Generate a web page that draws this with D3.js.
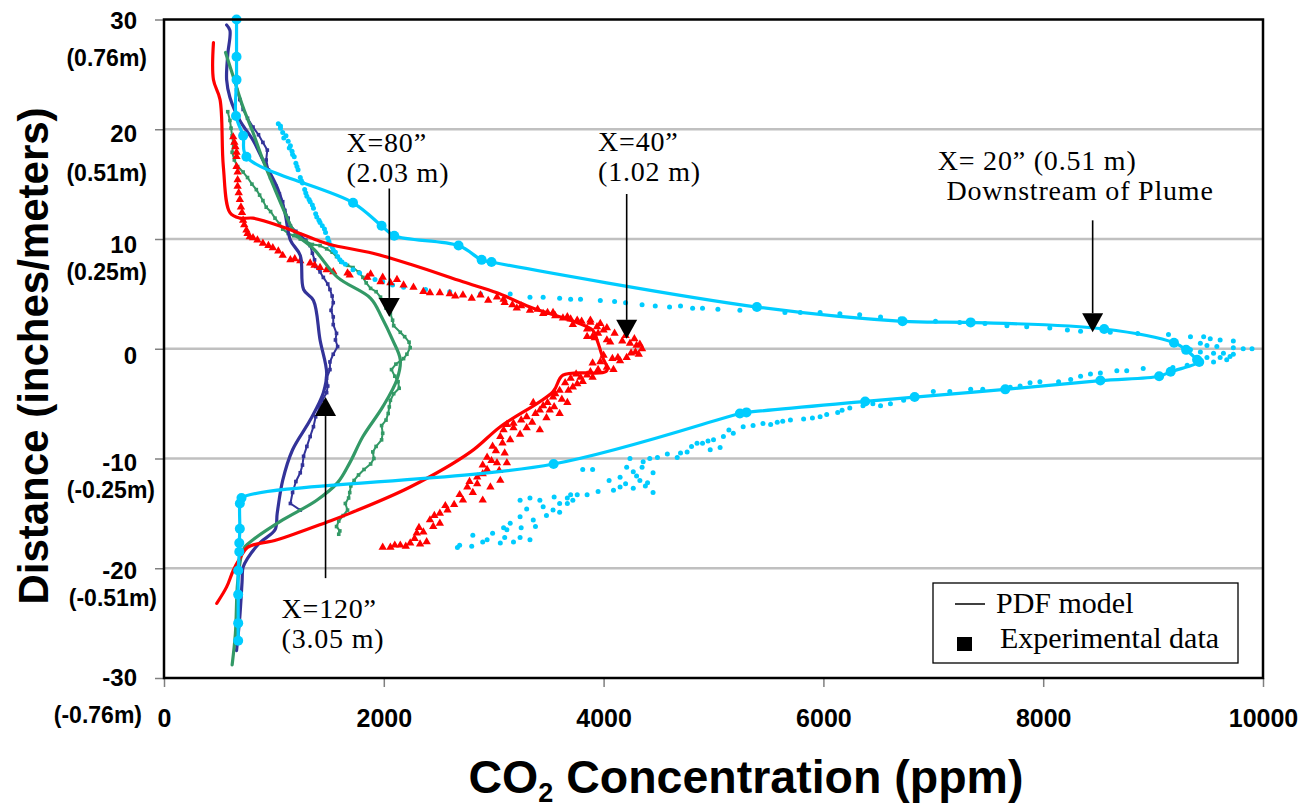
<!DOCTYPE html>
<html>
<head>
<meta charset="utf-8">
<script src="https://cdn.jsdelivr.net/npm/d3@7"></script>
<style>
  body { margin: 0; background: #fff; }
  svg { display: block; }
</style>
</head>
<body>
<svg id="chart" width="1308" height="809"></svg>
<script>
// ---- Data: [CO2 ppm, distance in inches] ----
const xTicks = [0, 2000, 4000, 6000, 8000, 10000];
const yTicks = [30, 20, 10, 0, -10, -20, -30];
const yMeterLabels = ["(0.76m)", "(0.51m)", "(0.25m)", "", "(-0.25m)", "(-0.51m)", "(-0.76m)"];
const gridValues = [20, 10, 0, -10, -20];

// X = 20" (0.51 m) downstream of plume
const cyanModel = [[660,30.0],[660,26.6],[660,24.5],[655,21.2],[720,19.4],[750,17.5],[1720,13.3],[1980,11.2],[2095,10.3],[2680,9.4],[2890,8.1],[2980,7.9],[5395,3.8],[6720,2.5],[7340,2.4],[8555,1.8],[9190,0.55],[9300,-0.1],[9400,-1.0],[9420,-1.2],[9160,-2.1],[9055,-2.5],[8520,-2.9],[7655,-3.7],[6830,-4.4],[6380,-4.8],[5300,-5.8],[5240,-5.9],[3545,-10.5],[705,-13.6],[690,-14.1],[690,-16.4],[685,-17.7],[685,-18.5],[675,-20.2],[675,-22.4],[675,-25.0],[675,-26.6]];
const cyanExp = [[1040,20.5],[1060,20.1],[1080,19.7],[1110,19.4],[1130,18.9],[1150,18.5],[1165,18.0],[1185,17.5],[1200,16.9],[1220,16.3],[1240,15.6],[1260,15.1],[1280,14.5],[1300,13.9],[1330,13.4],[1360,12.8],[1380,12.3],[1410,11.7],[1440,11.2],[1470,10.6],[1490,10.1],[1510,9.5],[1540,9.0],[1580,8.4],[1650,7.7],[1720,7.2],[1850,6.5],[1990,6.1],[2180,5.6],[2380,5.4],[2600,5.2],[2880,5.0],[3150,5.0],[3330,4.7],[3600,4.6],[3790,4.5],[3970,4.4],[4200,4.2],[4470,3.9],[4700,3.9],[4810,3.7],[5040,3.6],[5240,3.5],[5650,3.3],[5790,3.3],[5970,3.3],[6150,3.2],[6330,3.1],[6520,2.9],[6700,2.7],[7020,2.5],[7240,2.4],[7470,2.3],[7670,2.1],[7850,2.0],[8060,1.9],[8220,1.7],[8340,1.6],[8610,1.5],[8860,1.4],[9140,1.3],[9340,1.1],[9460,1.1],[9520,0.9],[9610,0.8],[9730,0.7],[9430,0.5],[9490,0.3],[9580,0.2],[9730,0.1],[9820,0.0],[9900,0.0],[9340,-0.1],[9430,-0.3],[9550,-0.4],[9640,-0.4],[9730,-0.5],[9490,-0.8],[9610,-0.8],[9700,-0.7],[9550,-1.2],[9670,-1.0],[9430,-1.3],[9310,-1.5],[9180,-1.7],[8910,-1.8],[8760,-2.0],[8670,-2.0],[8520,-2.2],[8430,-2.3],[8340,-2.5],[8250,-2.8],[8140,-3.0],[7970,-3.0],[7880,-3.1],[7790,-3.4],[7700,-3.5],[7450,-3.7],[7340,-3.7],[7150,-3.9],[7000,-3.9],[6850,-4.4],[6730,-4.7],[6610,-5.0],[6520,-5.2],[6360,-5.2],[6240,-5.4],[6130,-5.8],[6030,-6.0],[5970,-6.2],[5820,-6.4],[5700,-6.5],[5580,-6.7],[5450,-6.8],[5360,-7.0],[5270,-7.1],[5180,-7.7],[5090,-8.0],[5000,-8.3],[4900,-8.6],[5060,-9.0],[4970,-9.2],[4850,-8.6],[4700,-9.5],[4670,-9.9],[4580,-9.6],[4490,-9.9],[4420,-10.0],[4360,-10.3],[4450,-11.3],[4240,-10.0],[4210,-10.8],[4270,-11.2],[4150,-11.7],[4330,-12.0],[4400,-12.2],[4450,-13.1],[4270,-12.7],[4150,-12.6],[4090,-12.9],[3900,-11.0],[3810,-11.0],[3670,-13.6],[3600,-14.1],[3540,-14.7],[3420,-13.8],[3330,-13.6],[3240,-13.8],[3360,-15.6],[3240,-15.3],[3150,-15.9],[3090,-16.3],[2990,-16.8],[2940,-17.4],[2810,-17.0],[2690,-17.9],[2670,-18.1],[3330,-17.4],[3240,-17.2],[3180,-17.6],[3060,-17.7],[3120,-16.5],[3600,-14.9],[3670,-14.1],[3720,-13.8],[3760,-13.3],[3850,-13.3],
  [1060,20.3],[1090,19.2],[1140,18.3],[1170,17.7],[1210,16.6],[1250,15.3],[1290,14.2],[1320,13.6],[1350,13.1],[1390,12.0],[1420,11.5],[1460,10.9],[1500,9.8],[1530,9.3],[1560,8.8],[1600,8.1],[1620,7.9],[1780,6.9],[1920,6.3],[2080,5.8],
  [3450,4.7],[3700,4.5],[4100,4.3],[4350,4.0],[4600,3.8],[4900,3.7],
  [6450,-5.0],[6170,-5.6],[5900,-6.3],[5630,-6.6],[5520,-6.9],[5140,-7.4],[4950,-8.4],[4800,-8.9],[4760,-9.4],
  [4350,-10.8],[4300,-11.6],[4200,-12.3],[4380,-12.5],[4050,-12.0],[3950,-13.0],[3700,-13.3],[3550,-13.5],[3450,-14.4],[3300,-14.6],[3480,-15.2],[3380,-16.2],[3250,-16.3],[3100,-17.2],[2900,-17.6],[2800,-18.0]];

// X = 40" (1.02 m)
const redModel = [[450,27.9],[450,24.5],[510,22.7],[540,16.6],[600,12.4],[690,11.9],[810,11.9],[1080,11.1],[1390,9.9],[1510,9.5],[1900,8.7],[2270,7.6],[2720,6.1],[3030,5.1],[3330,3.8],[3900,1.7],[3940,0.8],[3990,-0.75],[4030,-2.0],[3630,-2.4],[3540,-3.9],[3060,-7.1],[2790,-9.4],[2240,-12.6],[1690,-15.0],[1480,-15.8],[1030,-17.4],[760,-18.1],[690,-19.1],[630,-20.2],[570,-21.7],[480,-23.2]];
const redExp = [[630,19.3],[640,18.8],[650,18.4],[660,17.9],[660,17.5],[660,16.6],[670,16.1],[670,15.4],[670,14.8],[680,14.2],[690,13.6],[700,12.9],[710,12.4],[720,11.7],[730,11.3],[750,10.8],[760,10.5],[780,10.2],[810,10.1],[850,9.9],[900,9.6],[950,9.4],[990,9.2],[1040,8.9],[1080,8.5],[1150,8.1],[1190,8.2],[1240,8.0],[1330,7.8],[1370,7.6],[1420,7.4],[1480,7.2],[1540,7.0],[1670,6.9],[1690,6.7],[1850,6.5],[1880,6.8],[1990,6.5],[1970,6.1],[2120,6.3],[2060,6.0],[2180,5.8],[2270,5.6],[2360,5.2],[2420,5.1],[2510,5.1],[2720,4.9],[2880,4.9],[3030,4.7],[3090,4.5],[3170,4.0],[3210,3.7],[3330,3.5],[3490,3.3],[3540,3.3],[3630,2.8],[3670,2.9],[3760,2.6],[3880,2.4],[3880,2.6],[3970,2.3],[3940,2.0],[4000,1.7],[4030,1.9],[3900,1.1],[3850,1.1],[3920,1.0],[4030,0.8],[4060,0.6],[4170,0.7],[4240,0.5],[4300,0.3],[4350,0.0],[4290,-0.3],[4210,-0.8],[4130,-0.8],[4080,-0.9],[3970,-1.2],[3900,-1.3],[4030,-1.7],[3950,-1.9],[3880,-2.1],[4090,-1.9],[3790,-2.6],[3700,-2.7],[3810,-3.0],[3720,-3.5],[3600,-3.8],[3670,-4.9],[3540,-4.4],[3510,-5.6],[3490,-4.9],[3360,-4.9],[3420,-5.6],[3600,-5.9],[3300,-6.2],[3180,-6.8],[3090,-7.4],[3420,-7.4],[3300,-7.2],[3120,-6.9],[3060,-8.0],[2990,-8.9],[2940,-9.9],[3030,-10.4],[3120,-10.4],[2940,-11.0],[2850,-11.7],[3060,-12.0],[2970,-12.6],[2760,-12.6],[2810,-13.1],[2900,-13.8],[2720,-13.8],[2580,-14.7],[2510,-15.0],[2420,-15.6],[2510,-15.9],[2360,-16.7],[2300,-16.8],[2390,-17.6],[2240,-17.7],[2150,-17.9],[2060,-18.1],[1990,-18.1],
  [2600,5.0],[2650,4.8],[2800,4.6],[2950,4.4],[3100,4.2],[3250,3.9],[3400,3.6],[3450,3.2],[3560,3.0],[3700,2.7],[3800,2.5],[3720,2.2],[3850,1.8],[3950,1.4],
  [4100,1.4],[4200,1.2],[4280,0.9],[4330,0.4],[4320,-0.5],[4250,-0.4],[4150,-1.1],[4000,-0.6],
  [3750,-2.3],[3850,-2.4],[3900,-2.6],[3650,-3.1],[3760,-3.2],[3680,-3.8],[3560,-4.1],[3620,-4.6],[3450,-5.2],[3550,-5.3],[3380,-5.9],[3480,-6.3],[3250,-6.5],[3350,-6.7],[3180,-7.2],[3240,-7.8],[3150,-8.3],[3080,-8.6],[3020,-9.3],[3100,-9.5],[2980,-10.2],[2900,-10.6],[3050,-11.1],[2900,-11.4],[2780,-12.1],[2850,-12.3],[2690,-13.3],[2640,-14.2],[2560,-14.3],[2460,-15.2],[2450,-16.2],[2320,-16.3],[2280,-17.3],[2330,-17.8],[2100,-17.9],[2200,-18.0]];

// X = 80" (2.03 m)
const greenModel = [[560,27.0],[630,24.8],[720,22.0],[810,19.7],[900,17.2],[1010,14.5],[1100,12.4],[1190,10.6],[1370,9.0],[1580,6.5],[1880,4.6],[1980,2.9],[2080,0.8],[2150,-1.0],[2120,-2.8],[1990,-5.3],[1810,-8.0],[1690,-10.4],[1580,-12.2],[1390,-13.8],[1080,-15.6],[810,-17.4],[740,-18.0],[710,-18.6],[670,-21.3],[650,-25.9],[620,-28.8]];
const greenExp = [[580,21.6],[600,20.8],[610,20.1],[620,19.4],[630,18.7],[620,17.9],[640,17.2],[670,16.6],[720,16.1],[760,15.6],[800,15.0],[840,14.5],[870,14.0],[900,13.5],[930,12.9],[970,12.5],[1010,11.9],[1050,11.4],[1080,10.9],[1130,10.5],[1180,10.3],[1240,10.0],[1290,9.8],[1350,9.5],[1420,9.4],[1480,9.1],[1530,8.8],[1570,8.4],[1610,7.9],[1670,7.6],[1720,7.4],[1770,7.0],[1810,6.5],[1840,6.0],[1880,5.5],[1930,5.2],[1970,4.7],[2000,4.3],[2020,3.7],[2060,3.2],[2080,2.6],[2090,2.1],[2150,1.5],[2190,1.1],[2230,0.6],[2240,0.1],[2210,-0.5],[2180,-0.9],[2110,-1.4],[2070,-1.9],[2100,-2.5],[2130,-3.0],[2140,-3.6],[2090,-4.1],[2060,-4.7],[2050,-5.3],[2040,-5.9],[2020,-6.5],[1980,-7.0],[1990,-7.7],[1980,-8.3],[1930,-8.9],[1900,-9.4],[1910,-10.0],[1880,-10.5],[1820,-11.0],[1770,-11.5],[1730,-12.0],[1700,-12.5],[1690,-13.1],[1680,-13.6],[1650,-14.1],[1670,-14.7],[1630,-15.2],[1590,-15.7],[1570,-16.2],[1600,-16.6],[1590,-16.9]];

// X = 120" (3.05 m)
const navyModel = [[570,29.5],[600,29.0],[580,26.8],[570,24.5],[600,22.9],[690,20.8],[810,19.0],[900,17.2],[1030,14.7],[1100,12.4],[1150,9.9],[1240,8.5],[1270,5.4],[1360,4.4],[1420,0.8],[1480,-2.2],[1450,-4.0],[1330,-6.5],[1170,-9.2],[1080,-12.0],[1030,-15.0],[1010,-16.5],[870,-17.7],[760,-19.1],[720,-19.9],[710,-21.3],[690,-24.4],[660,-27.5]];
const navyExp = [[660,23.6],[690,22.7],[720,21.8],[760,21.0],[810,20.2],[860,19.5],[900,18.8],[940,18.1],[930,17.2],[950,16.3],[970,15.6],[1020,14.8],[1050,14.1],[1080,13.4],[1100,12.6],[1130,11.9],[1150,11.2],[1200,10.7],[1240,10.4],[1290,9.9],[1330,9.4],[1350,8.7],[1370,8.1],[1380,7.5],[1420,7.0],[1450,6.5],[1490,5.9],[1510,5.4],[1530,4.8],[1540,4.2],[1520,3.5],[1540,2.9],[1540,2.2],[1570,1.4],[1560,0.8],[1580,0.2],[1540,-0.5],[1510,-1.2],[1510,-1.9],[1480,-2.7],[1490,-3.4],[1480,-4.0],[1440,-4.7],[1420,-5.3],[1380,-6.2],[1360,-7.1],[1330,-8.0],[1300,-8.9],[1270,-9.8],[1260,-10.6],[1240,-11.3],[1200,-12.1],[1170,-13.1],[1150,-14.1],[1240,-14.7]];

// Callout labels and arrows (arrow: x value, tail distance, tip distance)
const notes = [
  { lines: [["X=80\u201D", 1660, 17.95], ["(2.03 m)", 1660, 15.2]], arrow: [2050, 14.6, 2.9] },
  { lines: [["X=40\u201D", 3950, 18.0], ["(1.02 m)", 3950, 15.25]], arrow: [4210, 14.1, 0.9] },
  { lines: [["X= 20\u201D (0.51 m)", 7040, 16.3], ["Downstream of Plume", 7120, 13.55]], arrow: [8450, 11.7, 1.5] },
  { lines: [["X=120\u201D", 1070, -24.55], ["(3.05 m)", 1070, -27.3]], arrow: [1470, -20.9, -4.4] }
];

// ---- Layout ----
const plot = { left: 164, right: 1263, top: 19.5, bottom: 678 };
const colors = { cyan: "#00CCFF", red: "#FF0000", green: "#339966", navy: "#333399" };
const sans = "'Liberation Sans', Arial, sans-serif";
const serif = "'Liberation Serif', 'Times New Roman', serif";
// vertical centres of the two-line y labels, relative to their tick
const inchNudge = [0.5, 4.5, 5.5, 7, 4, 2, -0.5];
const meterLayout = [{ dy: 38, right: 147 }, { dy: 43, right: 147 }, { dy: 32.5, right: 147 }, null,
                     { dy: 31, right: 155 }, { dy: 29.5, right: 157 }, { dy: 36, right: 142 }];

const svg = d3.select("#chart");
const x = d3.scaleLinear().domain([0, 10000]).range([plot.left, plot.right]);
const y = d3.scaleLinear().domain([-30, 30]).range([plot.bottom, plot.top]);

// gridlines
svg.append("g").selectAll("line").data(gridValues).join("line")
  .attr("x1", plot.left).attr("x2", plot.right)
  .attr("y1", d => y(d)).attr("y2", d => y(d))
  .attr("stroke", "#c0c0c0").attr("stroke-width", 2.5);

// x axis
const gx = svg.append("g").attr("transform", `translate(0,${plot.bottom})`)
  .call(d3.axisBottom(x).tickValues(xTicks).tickSize(9).tickFormat(d => String(d)));
gx.select(".domain").remove();
gx.selectAll(".tick line").attr("stroke", "#808080").attr("stroke-width", 1.5);
gx.selectAll(".tick text").attr("y", 31).attr("dy", "0.71em")
  .attr("font-family", sans).attr("font-weight", "bold").attr("font-size", 25).attr("fill", "#000");

// y axis: ticks from the axis, two-line labels (inches / metres) drawn as one text each
const gy = svg.append("g").attr("transform", `translate(${plot.left},0)`)
  .call(d3.axisLeft(y).tickValues(yTicks).tickSize(9).tickFormat(""));
gy.select(".domain").remove();
gy.selectAll(".tick line").attr("stroke", "#808080").attr("stroke-width", 1.5);
gy.selectAll(".tick text").remove();

const yLab = svg.append("g").attr("font-family", sans).attr("font-weight", "bold").attr("fill", "#000");
yTicks.forEach((v, i) => {
  const t = yLab.append("text").attr("text-anchor", "end");
  t.append("tspan").attr("x", 137).attr("y", y(v) + inchNudge[i] + 8.5)
    .attr("font-size", 24).text(String(v));
  if (yMeterLabels[i]) {
    t.append("tspan").attr("x", meterLayout[i].right).attr("y", y(v) + meterLayout[i].dy + 8.5)
      .attr("font-size", 23).text(yMeterLabels[i]);
  }
});

// series
const line = d3.line().x(d => x(d[0])).y(d => y(d[1]));
const smooth = d3.line().x(d => x(d[0])).y(d => y(d[1])).curve(d3.curveCatmullRom.alpha(0.5));
const series = svg.append("g");

// experimental profiles
function jagged(data, color) {
  series.append("path").datum(data).attr("d", line)
    .attr("fill", "none").attr("stroke", color).attr("stroke-width", 2).attr("stroke-linejoin", "round");
  series.append("g").selectAll("rect").data(data).join("rect")
    .attr("x", d => x(d[0]) - 1.8).attr("y", d => y(d[1]) - 1.8)
    .attr("width", 3.6).attr("height", 3.6).attr("fill", color);
}
jagged(navyExp, colors.navy);
jagged(greenExp, colors.green);

series.append("g").selectAll("circle").data(cyanExp).join("circle")
  .attr("cx", d => x(d[0])).attr("cy", d => y(d[1])).attr("r", 2.5).attr("fill", colors.cyan);

const tri = d3.symbol().type(d3.symbolTriangle).size(30);
series.append("g").selectAll("path").data(redExp).join("path")
  .attr("transform", d => `translate(${x(d[0])},${y(d[1])})`)
  .attr("d", tri).attr("fill", colors.red);

// PDF model profiles
function model(data, color) {
  series.append("path").datum(data).attr("d", smooth)
    .attr("fill", "none").attr("stroke", color).attr("stroke-width", 3.2)
    .attr("stroke-linejoin", "round").attr("stroke-linecap", "round");
}
model(navyModel, colors.navy);
model(greenModel, colors.green);
model(redModel, colors.red);
model(cyanModel, colors.cyan);
series.append("g").selectAll("circle").data(cyanModel).join("circle")
  .attr("cx", d => x(d[0])).attr("cy", d => y(d[1])).attr("r", 5).attr("fill", colors.cyan);

// plot frame
svg.append("rect")
  .attr("x", plot.left).attr("y", plot.top)
  .attr("width", plot.right - plot.left).attr("height", plot.bottom - plot.top)
  .attr("fill", "none").attr("stroke", "#000").attr("stroke-width", 2.5);

// callouts
const ann = svg.append("g");
notes.forEach(n => {
  const t = ann.append("text").attr("font-family", serif).attr("font-size", 28)
    .attr("letter-spacing", 0.8).attr("fill", "#000");
  n.lines.forEach(([s, xv, yv]) => {
    t.append("tspan").attr("x", x(xv)).attr("y", y(yv)).text(s);
  });
  const [xv, from, to] = n.arrow;
  const ax = x(xv), y0 = y(from), y1 = y(to);
  const dir = Math.sign(y1 - y0);
  const headLen = 19, halfW = 10.5;
  ann.append("line").attr("x1", ax).attr("x2", ax).attr("y1", y0).attr("y2", y1 - dir * headLen)
    .attr("stroke", "#000").attr("stroke-width", 1.6);
  ann.append("path")
    .attr("d", `M${ax},${y1} L${ax - halfW},${y1 - dir * headLen} L${ax + halfW},${y1 - dir * headLen} Z`)
    .attr("fill", "#000");
});

// legend
const lg = svg.append("g");
lg.append("rect").attr("x", 933).attr("y", 583).attr("width", 305).attr("height", 80)
  .attr("fill", "#fff").attr("stroke", "#000").attr("stroke-width", 1.3);
lg.append("line").attr("x1", 955).attr("x2", 985).attr("y1", 604).attr("y2", 604)
  .attr("stroke", "#000").attr("stroke-width", 1.5);
lg.append("text").attr("x", 996).attr("y", 613).attr("font-family", serif).attr("font-size", 30).text("PDF model");
lg.append("rect").attr("x", 957).attr("y", 637).attr("width", 15).attr("height", 14).attr("fill", "#000");
lg.append("text").attr("x", 1000).attr("y", 648).attr("font-family", serif).attr("font-size", 30).text("Experimental data");

// axis titles
const xt = svg.append("text").attr("x", 746).attr("y", 793).attr("text-anchor", "middle")
  .attr("font-family", sans).attr("font-weight", "bold").attr("font-size", 46.5);
xt.append("tspan").text("CO");
xt.append("tspan").attr("font-size", 27).attr("dy", 9).text("2");
xt.append("tspan").attr("dy", -9).text(" Concentration (ppm)");

svg.append("text").attr("transform", "translate(48,356) rotate(-90)")
  .attr("text-anchor", "middle")
  .attr("font-family", sans).attr("font-weight", "bold").attr("font-size", 42)
  .text("Distance (inches/meters)");
</script>
</body>
</html>
